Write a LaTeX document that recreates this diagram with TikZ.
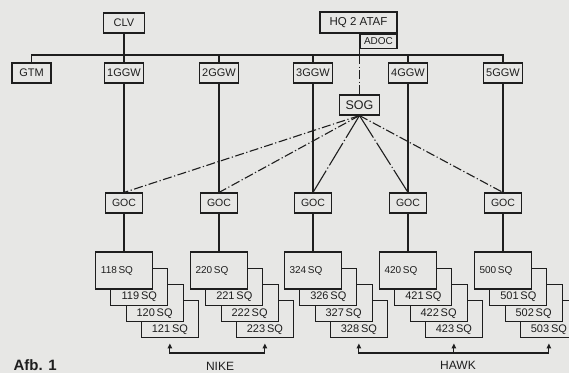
\documentclass[tikz,border=0pt]{standalone}
\usepackage{fontspec}
\setmainfont{Liberation Sans}
\usetikzlibrary{arrows.meta}
\definecolor{papier}{RGB}{231,231,229}
\definecolor{inkt}{RGB}{30,30,30}

\begin{document}
\begin{tikzpicture}[x=1pt,y=-1pt,line width=1.1pt,color=inkt,
    >={Triangle[length=5pt,width=4.5pt]},
    eenheid/.style={draw,fill=papier,inner sep=1pt,minimum height=20pt,font=\fontsize{11}{12}\selectfont},
    squadron/.style={draw,fill=papier,minimum width=57pt,minimum height=37pt},
    sqtekst/.style={inner sep=0pt,font=\fontsize{11}{12}\selectfont},
    streeppunt/.style={dash pattern=on 9pt off 2.5pt on 1.2pt off 2.5pt},
    langstreep/.style={dash pattern=on 26pt off 2.5pt on 1.2pt off 2.5pt}]
        %achtergrond
        \fill[papier] (0,0) rectangle (569,373);
        \useasboundingbox (0,0) rectangle (569,373);

        %staf bovenaan
        \node[eenheid,minimum width=41pt] (clv) at (124,23) {CLV};
        \node[eenheid,minimum width=77pt,minimum height=21pt,font=\fontsize{11.5}{12}\selectfont] (hq) at (358.5,22.5) {HQ 2 ATAF};
        \node[eenheid,minimum width=37pt,minimum height=14pt,anchor=north east,font=\fontsize{10}{11}\selectfont] (adoc) at (hq.south east) {ADOC};

        %groepen
        \node[eenheid,minimum width=39pt] (gtm) at (31.5,73) {GTM};
        \foreach \x [count=\i] in {124,219,313,408,503}
            \node[eenheid,minimum width=39pt] (ggw\i) at (\x,73) {\i GGW};
        \node[eenheid,minimum width=40pt,font=\fontsize{12.5}{13}\selectfont] (sog) at (adoc.south west |- 0,105) {SOG};

        %verbindingen staf
        \coordinate (bus) at (0,55);
        \draw (gtm.north) |- (bus -| ggw5.north) -- (ggw5.north);
        \foreach \i in {2,3,4} \draw (ggw\i.north) -- (ggw\i.north |- bus);
        \draw (clv) -- (ggw1);
        \draw (adoc.south west) -- (adoc.south west |- bus);
        \draw[streeppunt] (adoc.south west |- bus) -- (sog);

        %GOC en squadrons
        \foreach \x/\a/\b/\c/\d [count=\i] in {124/118/119/120/121,219/220/221/222/223,313/324/326/327/328,408/420/421/422/423,503/500/501/502/503}{
            \node[eenheid,minimum width=37pt,font=\fontsize{10.5}{11}\selectfont] (goc\i) at (\x,203) {GOC};
            \draw (ggw\i) -- (goc\i);
            %stapel van achter naar voor
            \foreach \n/\k in {\d/3,\c/2,\b/1}{
                \node[squadron] (sq\n) at (\x+15.3*\k,270.5+16.3*\k) {};
                \node[sqtekst,above=3.5pt] (t\n) at (sq\n.south) {\n\,SQ};
            }
            \node[squadron] (sq\a) at (\x,270.5) {};
            \node[sqtekst,font=\fontsize{10}{11}\selectfont] (t\a) at ([xshift=-7pt]sq\a.center) {\a\,SQ};
            \draw (goc\i) -- (sq\a);
        }

        %lijnen vanuit SOG
        \foreach \i in {1,2,5} \draw[streeppunt] (sog.south) -- (goc\i.north);
        \foreach \i in {3,4} \draw[langstreep] (sog.south) -- (goc\i.north);

        %wapensystemen
        \coordinate (basis) at (0,353);
        \coordinate (nike1) at ([yshift=-5pt]sq121.south);
        \coordinate (nike2) at ([yshift=-5pt]sq223.south);
        \coordinate (hawk1) at ([yshift=-5pt]sq328.south);
        \coordinate (hawk2) at ([yshift=-5pt]sq423.south);
        \coordinate (hawk3) at ([yshift=-5pt]sq503.south);
        \draw[<->] (nike1) -- (nike1 |- basis) -- (nike2 |- basis) -- (nike2);
        \draw[<->] (hawk1) -- (hawk1 |- basis) -- (hawk3 |- basis) -- (hawk3);
        \draw[->] (hawk2 |- basis) -- (hawk2);
        \node[anchor=north,inner sep=0pt,font=\fontsize{12}{13}\selectfont] (nike) at (220,362) {NIKE};
        \node[anchor=north,inner sep=0pt,font=\fontsize{12}{13}\selectfont] (hawk) at (458,361) {HAWK};

        \node[anchor=base west,inner sep=0pt,font=\bfseries\fontsize{15}{16}\selectfont] (afb) at (13,370.5) {Afb. 1};
    \end{tikzpicture}
\end{document}
